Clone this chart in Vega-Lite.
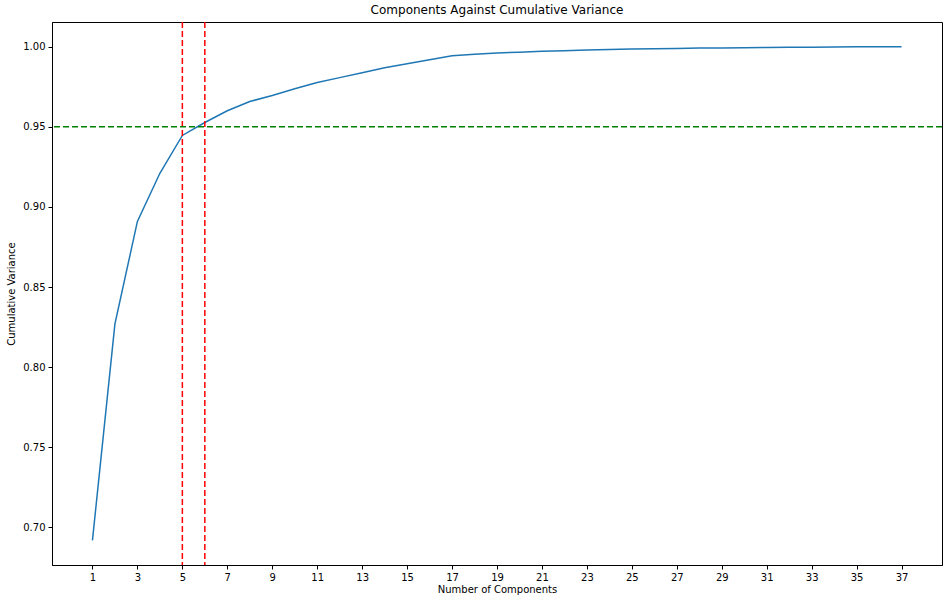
{
"$schema":"https://vega.github.io/schema/vega-lite/v6.json",
"width":890,"height":543,"autosize":"none",
"padding":{"left":52,"top":22,"right":8,"bottom":39},
"background":"white",
"config":{"font":"DejaVu Sans","view":{"stroke":"black","strokeWidth":1},
"axis":{"grid":false,"domainColor":"black","tickColor":"black","labelColor":"black","titleColor":"black","labelFontSize":10,"titleFontSize":10,"titleFontWeight":"normal","tickSize":4,"labelPadding":3}},
"title":{"text":"Components Against Cumulative Variance","fontSize":12,"fontWeight":"normal","offset":4,"font":"DejaVu Sans"},
"datasets":{"d":[
{"n":1,"v":0.692},{"n":2,"v":0.827},{"n":3,"v":0.891},{"n":4,"v":0.921},{"n":5,"v":0.9446},{"n":6,"v":0.9527},{"n":7,"v":0.960},{"n":8,"v":0.9658},{"n":9,"v":0.9695},{"n":10,"v":0.9738},{"n":11,"v":0.9776},{"n":12,"v":0.9807},{"n":13,"v":0.9838},{"n":14,"v":0.9869},{"n":15,"v":0.9894},{"n":16,"v":0.9919},{"n":17,"v":0.9944},{"n":18,"v":0.9953},{"n":19,"v":0.996},{"n":20,"v":0.9966},{"n":21,"v":0.9971},{"n":22,"v":0.9975},{"n":23,"v":0.9979},{"n":24,"v":0.9982},{"n":25,"v":0.9985},{"n":26,"v":0.9987},{"n":27,"v":0.9989},{"n":28,"v":0.9991},{"n":29,"v":0.9992},{"n":30,"v":0.9994},{"n":31,"v":0.9995},{"n":32,"v":0.9996},{"n":33,"v":0.9997},{"n":34,"v":0.9998},{"n":35,"v":0.9999},{"n":36,"v":0.99995},{"n":37,"v":1.0}],
"vr":[{"x":5},{"x":6}],"hr":[{"y":0.95}]},
"layer":[
{"data":{"name":"d"},"mark":{"type":"line","color":"#1f77b4","strokeWidth":1.5,"clip":true},
"encoding":{"x":{"field":"n","type":"quantitative","scale":{"domain":[-0.8,38.8],"nice":false,"zero":false},"axis":{"values":[1,2,3,4,5,6,7,8,9,10,11,12,13,14,15,16,17,18,19,20,21,22,23,24,25,26,27,28,29,30,31,32,33,34,35,36,37],"labelOverlap":false,"labelBound":false,"title":"Number of Components","titlePadding":2}},
"y":{"field":"v","type":"quantitative","scale":{"domain":[0.6766,1.0154],"nice":false,"zero":false},"axis":{"values":[0.7,0.75,0.8,0.85,0.9,0.95,1.0],"format":".2f","title":"Cumulative Variance","titlePadding":6}}}},
{"data":{"name":"vr"},"mark":{"type":"rule","color":"red","strokeDash":[6,3],"strokeWidth":1.5},"encoding":{"x":{"field":"x","type":"quantitative"}}},
{"data":{"name":"hr"},"mark":{"type":"rule","color":"green","strokeDash":[6,3],"strokeWidth":1.5},"encoding":{"y":{"field":"y","type":"quantitative"}}}
]}
